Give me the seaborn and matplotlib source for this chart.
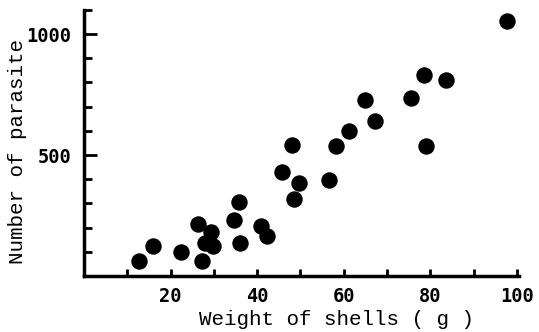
import pandas as pd
import matplotlib.pyplot as plt
import seaborn as sns
from matplotlib.ticker import MultipleLocator

# data
weight = [12.8, 15.9, 22.5, 26.4, 27.3, 27.9, 29.4, 29.8, 34.6, 35.8, 36.1,
          40.9, 42.2, 45.8, 48.1, 48.5, 49.7, 56.6, 58.1, 61.3, 65.0, 67.3,
          75.5, 78.5, 79.1, 83.7, 97.7]
parasite = [63, 123, 99, 213, 62, 134, 180, 125, 233, 306, 137,
            208, 165, 430, 543, 320, 385, 398, 536, 598, 728, 639,
            735, 831, 536, 811, 1056]

df = pd.DataFrame({"weight": weight, "parasite": parasite})

sns.set_style("ticks", {"axes.edgecolor": "black", "text.color": "black",
                        "axes.labelcolor": "black", "xtick.color": "black",
                        "ytick.color": "black"})
fig = plt.figure(figsize=(5.39, 3.32), dpi=100)
ax = fig.add_axes([0.156, 0.169, 0.807, 0.801])

sns.scatterplot(data=df, x="weight", y="parasite", color="black", s=140,
                linewidth=0, ax=ax)

ax.set_xlim(0, 100.5)
ax.set_ylim(0, 1100)
ax.xaxis.set_minor_locator(MultipleLocator(10))
ax.yaxis.set_minor_locator(MultipleLocator(100))
ax.set_xticks([20, 40, 60, 80, 100])
ax.set_yticks([500, 1000])

sns.despine(ax=ax)
for side in ["left", "bottom"]:
    ax.spines[side].set_linewidth(2.5)

ax.tick_params(axis="x", which="both", direction="in", length=5, width=2, pad=8)
ax.tick_params(axis="y", which="major", direction="in", length=9, width=2, pad=9)
ax.tick_params(axis="y", which="minor", direction="in", length=6, width=2)
for lab in ax.get_xticklabels() + ax.get_yticklabels():
    lab.set_fontfamily("DejaVu Sans Mono")
    lab.set_fontweight("bold")
    lab.set_fontsize(13.5)

ax.set_xlabel("Weight of shells ( g )", fontfamily="Liberation Mono", fontsize=15)
ax.set_ylabel("Number of parasite", fontfamily="Liberation Mono", fontsize=15)
ax.xaxis.set_label_coords(0.58, -0.13)
ax.yaxis.set_label_coords(-0.131, 0.466)

fig.savefig("out.png", dpi=100)
